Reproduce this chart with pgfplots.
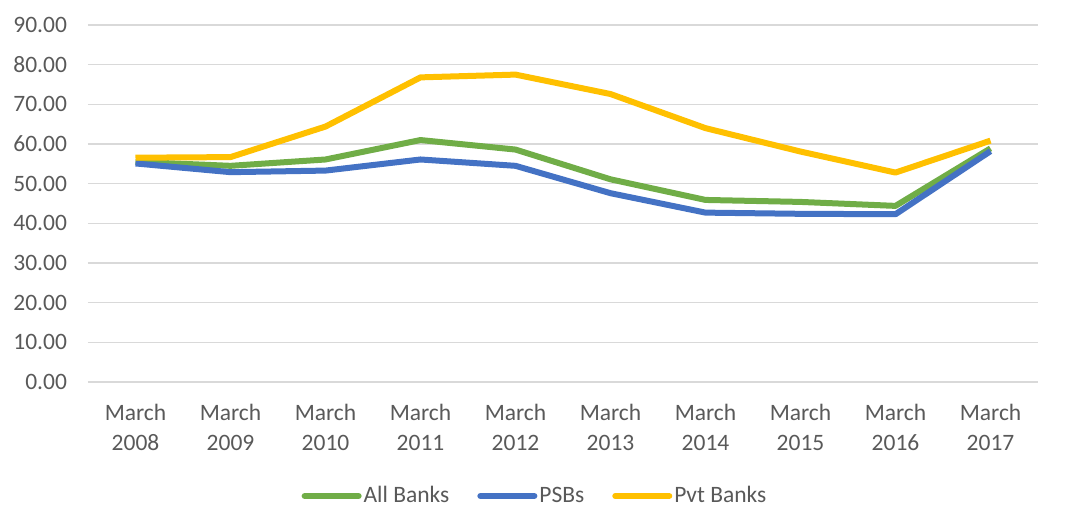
\documentclass[border=0pt]{standalone}
\usepackage{pgfplots}
\pgfplotsset{compat=1.18}
\usepackage{fontspec}
\setmainfont{Carlito}
\definecolor{cgreen}{HTML}{70AD47}
\definecolor{cblue}{HTML}{4472C4}
\definecolor{cyellow}{HTML}{FFC000}
\definecolor{cgrid}{HTML}{D9D9D9}
\definecolor{ctext}{HTML}{595959}
\begin{document}
\begin{tikzpicture}
\begin{axis}[
  scale only axis,
  width=475pt, height=178.5pt,
  xmin=-0.5, xmax=9.5,
  ymin=0, ymax=90,
  ytick={0,10,...,90},
  xtick={0,...,9},
  xticklabels={{March\\2008},{March\\2009},{March\\2010},{March\\2011},{March\\2012},{March\\2013},{March\\2014},{March\\2015},{March\\2016},{March\\2017}},
  yticklabel={\pgfmathprintnumber[fixed,fixed zerofill,precision=2]{\tick}},
  /pgf/number format/assume math mode=true,
  axis line style={draw=none},
  axis x line*=bottom,
  x axis line style={draw=cgrid, line width=0.75pt},
  tick style={draw=none},
  ymajorgrids,
  grid style={draw=cgrid, line width=0.75pt},
  ticklabel style={font=\fontsize{11.75}{15}\selectfont, text=ctext},
  xticklabel style={align=center, yshift=-7.5pt},
  yticklabel style={xshift=-7pt},
  legend style={at={(axis description cs:0.5,0)}, anchor=center, yshift=-57pt, xshift=-14pt, draw=none,
    font=\fontsize{11.75}{15}\selectfont, text=ctext, legend columns=-1,
    nodes={inner xsep=1pt},
    /tikz/every even column/.append style={column sep=13pt}},
  legend cell align=left,
  legend image code/.code={\draw[#1, line cap=round] (0pt,0pt) -- (27pt,0pt);},
  every axis plot/.append style={line width=3pt, line join=round, mark=none},
]
\addplot[cgreen] coordinates {(0,55.5) (1,54.5) (2,56.1) (3,61.0) (4,58.6) (5,51.1) (6,45.9) (7,45.4) (8,44.4) (9,58.9)};
\addlegendentry{All Banks}
\addplot[cblue] coordinates {(0,55.1) (1,52.9) (2,53.3) (3,56.1) (4,54.5) (5,47.6) (6,42.7) (7,42.4) (8,42.3) (9,58.2)};
\addlegendentry{PSBs}
\addplot[cyellow] coordinates {(0,56.55) (1,56.7) (2,64.4) (3,76.8) (4,77.5) (5,72.6) (6,64.0) (7,58.1) (8,52.8) (9,60.85)};
\addlegendentry{Pvt Banks}
\end{axis}
\pgfresetboundingbox
\path[use as bounding box] (-44pt,-73.5pt) rectangle (489pt,191pt);
\end{tikzpicture}
\end{document}
